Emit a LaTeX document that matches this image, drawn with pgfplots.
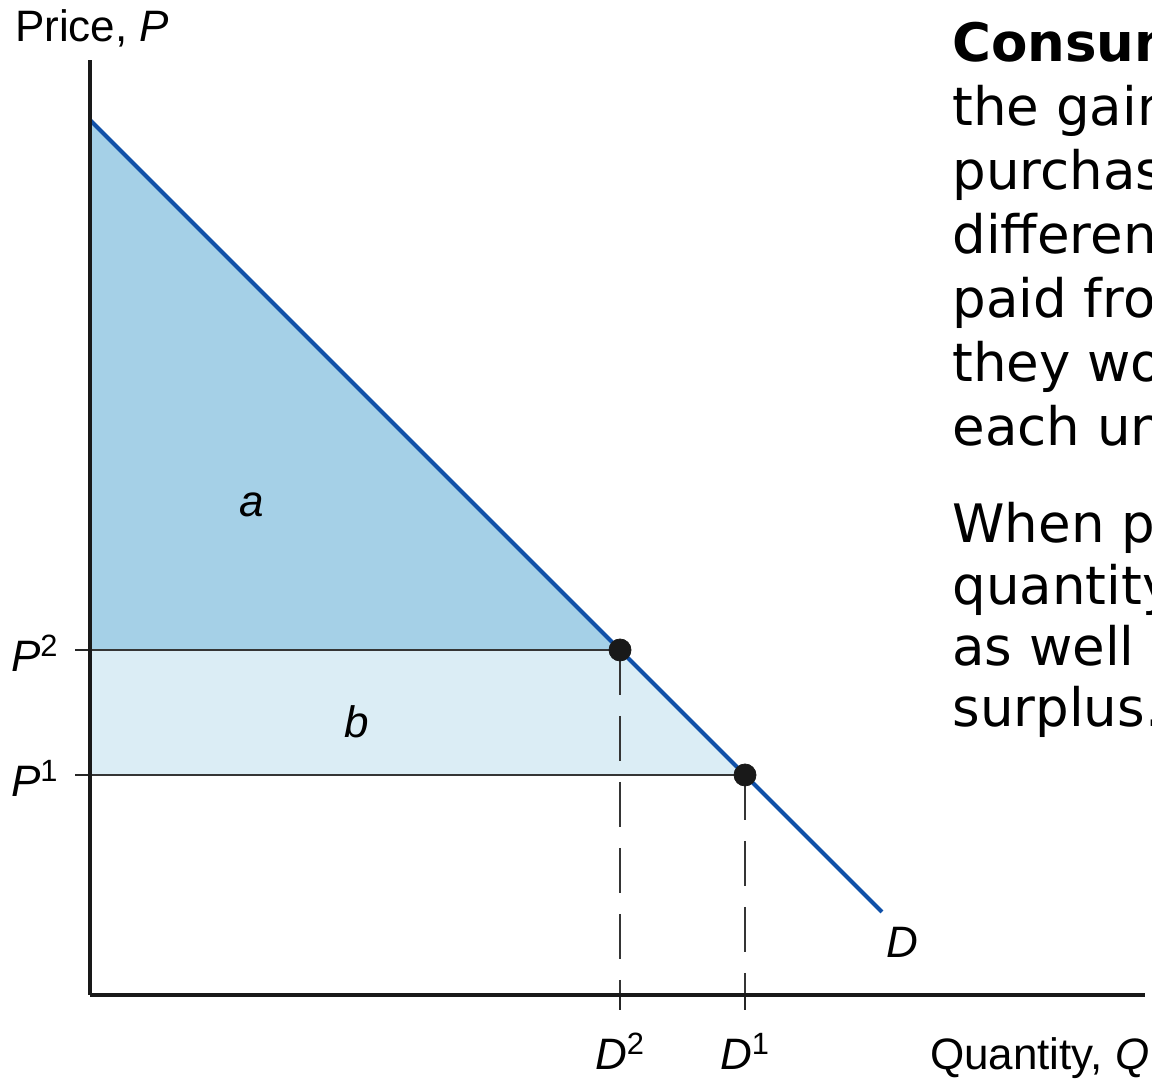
\documentclass[border=0pt]{standalone}
\usepackage{fontspec}
\setmainfont{Liberation Sans}
\newfontfamily\vd{DejaVu Sans}
\usepackage{pgfplots}
\pgfplotsset{compat=1.18}
\definecolor{csA}{HTML}{A5D0E7}
\definecolor{csB}{HTML}{DBEDF5}
\definecolor{dblue}{HTML}{1050A8}
\definecolor{hline}{HTML}{353535}

% demand curve and the two price/quantity pairs (units: half points)
\pgfplotstableread{
x y
0 875
792 83
}\demand
\pgfplotstableread{
x y
530 345
655 220
}\points

\begin{document}
\begin{tikzpicture}
\useasboundingbox (0,0) rectangle (576pt,539.5pt);
\clip (0,0) rectangle (576pt,539.5pt);
\begin{axis}[
    at={(45pt,42pt)}, anchor=south west,
    scale only axis, width=527.5pt, height=467.5pt,
    xmin=0, xmax=1055, ymin=0, ymax=935,
    axis lines=left,
    axis line style={line width=2pt, color=black!90, -},
    axis on top,
    clip=false,
    xtick={530,655}, ytick={220,345},
    xticklabels={,}, yticklabels={,},
    tick align=outside,
    major tick length=7.5pt,
    tick style={line width=1pt, color=black!85},
    every axis plot/.append style={line join=round},
]
% region a and region b
\addplot[fill=csA, draw=none] coordinates {(0,875) (530,345) (0,345)} \closedcycle;
\addplot[fill=csB, draw=none] coordinates {(0,345) (530,345) (655,220) (0,220)} --cycle;
% price lines
\addplot[hline, line width=1.3pt] coordinates {(0,345) (530,345)};
\addplot[hline, line width=1.3pt] coordinates {(0,220) (655,220)};
% quantity drops
\addplot[hline, line width=1pt, dash pattern=on 22.5pt off 10.5pt] coordinates {(530,345) (530,0)};
\addplot[hline, line width=1pt, dash pattern=on 22.5pt off 10.5pt] coordinates {(655,220) (655,0)};
% demand
\addplot[dblue, line width=2pt] table[x=x, y=y] {\demand};
\addplot[only marks, mark=*, mark size=5.5pt, color=black!90] table[x=x, y=y] {\points};

\node[anchor=base west, font=\fontsize{22}{24}\selectfont] at (axis cs:-82,953) {Price, \textit{P}};
\node[anchor=base west, font=\fontsize{22}{24}\selectfont] at (axis cs:833,-75) {Quantity, \textit{Q}};
\node[anchor=base, font=\fontsize{22}{24}\selectfont] at (axis cs:530,-75) {\textit{D}\textsuperscript{2}};
\node[anchor=base, font=\fontsize{22}{24}\selectfont] at (axis cs:655,-75) {\textit{D}\textsuperscript{1}};
\node[anchor=base west, font=\fontsize{22}{24}\selectfont] at (axis cs:-86,323) {\textit{P}\textsuperscript{2}};
\node[anchor=base west, font=\fontsize{22}{24}\selectfont] at (axis cs:-86,198) {\textit{P}\textsuperscript{1}};
\node[font=\fontsize{22}{24}\selectfont\itshape] at (axis cs:162,490) {a};
\node[font=\fontsize{22}{24}\selectfont\itshape] at (axis cs:267,273) {b};
\node[font=\fontsize{22}{24}\selectfont\itshape] at (axis cs:812,53) {D};
\end{axis}

\begin{scope}[every node/.style={anchor=base west, inner sep=0pt, font=\vd\fontsize{26.5}{31}\selectfont}]
\node at (476pt,508.5pt) {\textbf{Consumer surplus} is};
\node at (476pt,476.5pt) {the gain consumers get from};
\node at (476pt,444.5pt) {purchasing a good: the};
\node at (476pt,412.5pt) {difference between what they};
\node at (476pt,380.5pt) {paid from what};
\node at (476pt,348.5pt) {they would have paid for};
\node at (476pt,316.5pt) {each unit.};
\node at (476pt,268pt) {When price falls,};
\node at (476pt,237pt) {quantity demanded rises,};
\node at (476pt,206.5pt) {as well as consumer};
\node at (476pt,176pt) {surplus.};
\end{scope}
\end{tikzpicture}
\end{document}
